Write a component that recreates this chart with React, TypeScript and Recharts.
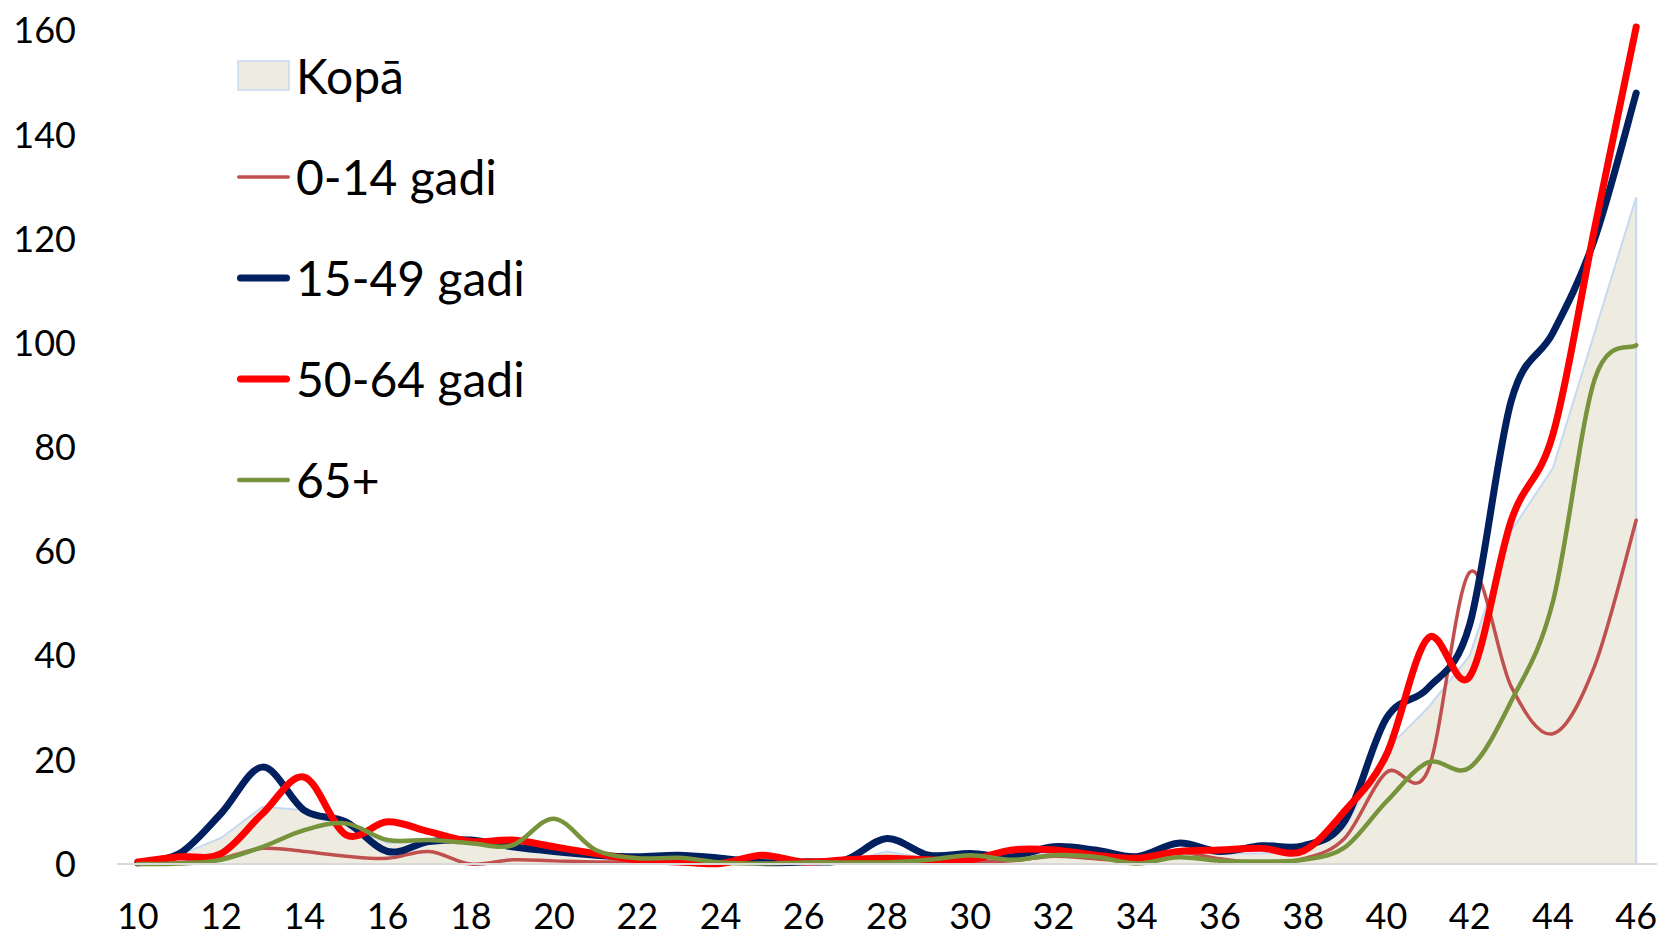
import React from "react";
import { ComposedChart, Area, Line, XAxis, YAxis, ReferenceLine } from "recharts";

const weeks = [10, 11, 12, 13, 14, 15, 16, 17, 18, 19, 20, 21, 22, 23, 24, 25, 26, 27, 28, 29, 30, 31, 32, 33, 34, 35, 36, 37, 38, 39, 40, 41, 42, 43, 44, 45, 46];

const kopa = [0.3, 1.7, 5, 11, 10.3, 8, 4, 4.3, 4, 3.3, 2.4, 2, 1, 1, 0.5, 1, 0.5, 0.5, 2.4, 1, 1, 1.5, 2, 1.5, 1, 2.5, 2, 2, 2.5, 7, 22, 30, 40, 64, 76, 102, 128];
const age0to14 = [0, 0.3, 1.1, 3, 2.4, 1.5, 1.1, 2.4, 0, 0.8, 0.6, 0.4, 0.4, 0.3, 0.3, 0.4, 0.3, 0.3, 0.5, 0.4, 0.5, 0.6, 1.5, 1, 0.6, 2.2, 1, 0.2, 1, 5, 17.6, 18, 56, 34, 25, 38, 66];
const age15to49 = [0.2, 2, 9.7, 18.6, 10.3, 8.1, 2.4, 4.3, 4.6, 3.3, 2.4, 1.7, 1.4, 1.7, 1.1, 0.3, 0.4, 0.8, 4.9, 1.7, 2, 1.4, 3.3, 2.7, 1.4, 4, 2.4, 3.5, 3.5, 8.3, 28, 33.8, 46, 89, 102, 120, 148];
const age50to64 = [0.4, 1.4, 2, 9.7, 16.7, 5.6, 8.1, 6.2, 4.3, 4.6, 3.3, 2, 0.8, 0.4, 0.1, 1.7, 0.4, 0.8, 1.1, 0.8, 0.8, 2.7, 2.7, 1.7, 1.1, 2.4, 2.7, 3, 2.5, 10.2, 21, 43.4, 36, 66, 82.5, 122, 160.7];
const age65plus = [0, 0.1, 0.8, 3.3, 6.5, 7.8, 4.6, 4.6, 4, 3.6, 8.7, 2.7, 1.1, 1.2, 0.3, 0.1, 0.3, 0.3, 0.3, 0.8, 1.7, 0.8, 1.7, 1.4, 0.1, 1.3, 0.6, 0.5, 0.8, 3.2, 12, 19.5, 18.5, 31.3, 50.4, 93, 99.6];

const xTicks = [10, 12, 14, 16, 18, 20, 22, 24, 26, 28, 30, 32, 34, 36, 38, 40, 42, 44, 46];
const yTicks = [0, 20, 40, 60, 80, 100, 120, 140, 160];

const rows = weeks.map((w, i) => ({
  week: w,
  kopa: kopa[i],
  a: age0to14[i],
  b: age15to49[i],
  c: age50to64[i],
  d: age65plus[i],
}));

const FONT = "Lato, 'Noto Sans', sans-serif";

const lines = [
  { key: "a", name: "0-14 gadi", color: "#c0504d", width: 3.5 },
  { key: "b", name: "15-49 gadi", color: "#002060", width: 7 },
  { key: "c", name: "50-64 gadi", color: "#ff0000", width: 7 },
  { key: "d", name: "65+", color: "#77933c", width: 4.5 },
];

// Excel-like smoothed line (catmull-rom through every point)
const smoothCurve = (context: any) => {
  let pts: number[][] = [];
  return {
    areaStart() {},
    areaEnd() {},
    lineStart() {
      pts = [];
    },
    point(x: number, y: number) {
      pts.push([+x, +y]);
    },
    lineEnd() {
      const n = pts.length;
      if (!n) return;
      context.moveTo(pts[0][0], pts[0][1]);
      for (let i = 0; i < n - 1; i++) {
        const p0 = pts[i - 1] || pts[i];
        const p1 = pts[i];
        const p2 = pts[i + 1];
        const p3 = pts[i + 2] || p2;
        context.bezierCurveTo(
          p1[0] + (p2[0] - p0[0]) / 6,
          p1[1] + (p2[1] - p0[1]) / 6,
          p2[0] - (p3[0] - p1[0]) / 6,
          p2[1] - (p3[1] - p1[1]) / 6,
          p2[0],
          p2[1]
        );
      }
    },
  };
};

function LegendBox() {
  const item = { height: 101, display: "flex", alignItems: "center" } as const;
  const text = { fontSize: 48, color: "#000", marginLeft: 6, lineHeight: 1 };
  return (
    <div style={{ position: "absolute", top: 25, left: 237, fontFamily: FONT }}>
      <div style={item}>
        <svg width={53} height={31}>
          <rect x={1} y={1} width={51} height={29} fill="#eeece1" stroke="#c6d9f1" strokeWidth={1.5} />
        </svg>
        <span style={text}>Kopā</span>
      </div>
      {lines.map((l) => (
        <div key={l.key} style={item}>
          <svg width={53} height={12}>
            <line x1={l.width / 2} y1={6} x2={53 - l.width / 2} y2={6} stroke={l.color} strokeWidth={l.width} strokeLinecap="round" />
          </svg>
          <span style={text}>{l.name}</span>
        </div>
      ))}
    </div>
  );
}

export default function App() {
  return (
    <div style={{ position: "relative", width: 1661, height: 937, background: "#fff" }}>
      <style>{`body{margin:0}`}</style>
      <ComposedChart width={1661} height={937} data={rows} margin={{ top: 27, right: 4, bottom: 13, left: 0 }}>
        <XAxis
          dataKey="week"
          type="number"
          domain={[9.5, 46.5]}
          ticks={xTicks}
          interval={0}
          height={60}
          stroke="#d9d9d9"
          strokeWidth={2}
          tickLine={false}
          tickSize={0}
          tickMargin={39}
          tick={{ fill: "#000", fontSize: 36, fontFamily: FONT }}
        />
        <YAxis
          domain={[0, 160]}
          ticks={yTicks}
          width={117}
          axisLine={false}
          tickLine={false}
          tickSize={0}
          tickMargin={41}
          tick={{ fill: "#000", fontSize: 36, fontFamily: FONT }}
        />
        <Area
          dataKey="kopa"
          type="linear"
          fill="#eeece1"
          fillOpacity={1}
          stroke="#c6d9f1"
          strokeWidth={2}
          isAnimationActive={false}
          dot={false}
          activeDot={false}
        />
        <ReferenceLine
          segment={[
            { x: weeks[weeks.length - 1], y: 0 },
            { x: weeks[weeks.length - 1], y: kopa[kopa.length - 1] },
          ]}
          stroke="#c6d9f1"
          strokeWidth={2}
        />
        {lines.map((l) => (
          <Line
            key={l.key}
            dataKey={l.key}
            name={l.name}
            type={smoothCurve as any}
            stroke={l.color}
            strokeWidth={l.width}
            strokeLinecap="round"
            strokeLinejoin="round"
            dot={false}
            activeDot={false}
            isAnimationActive={false}
          />
        ))}
      </ComposedChart>
      <LegendBox />
    </div>
  );
}
